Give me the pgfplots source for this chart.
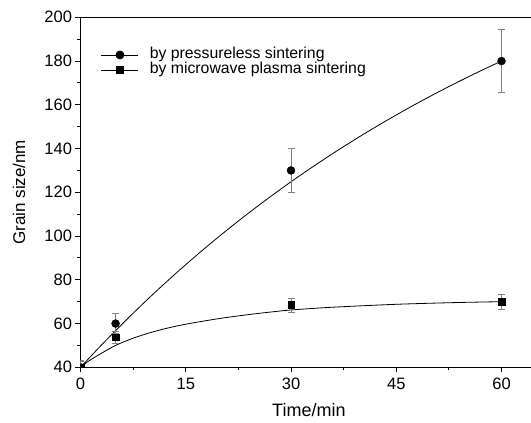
\documentclass[border=0pt]{standalone}
\usepackage{fontspec}
\setmainfont{Liberation Sans}
\usepackage{pgfplots}
\pgfplotsset{compat=1.18}
\begin{document}
\begin{tikzpicture}
\begin{axis}[
 name=ax,
 scale only axis, width=450.5pt, height=350pt,
 xmin=0, xmax=64.2, ymin=40, ymax=200,
 axis x line*=box, axis y line*=left,
 xtick={0,15,30,45,60}, minor xtick={7.5,22.5,37.5,52.5},
 ytick={40,60,...,200}, minor ytick={50,70,...,190},
 xtick pos=left, ytick pos=left,
 tick align=outside,
 major tick length=5pt, minor tick length=3pt,
 axis line style={line width=1.3pt},
 every tick/.style={black, line width=1pt},
 tick label style={font=\fontsize{16.5}{18}\selectfont},
 xticklabel style={yshift=-2pt},
 /pgf/number format/assume math mode=true,
 xlabel={Time/min}, ylabel={Grain size/nm},
 xlabel style={font=\fontsize{18}{20}\selectfont, at={(axis description cs:0.507,-0.122)}, anchor=center},
 ylabel style={font=\fontsize{17}{20}\selectfont, at={(axis description cs:-0.1365,0.5)}, anchor=center},
 clip marker paths=true,
 legend style={draw=none, fill=none, at={(axis cs:2.9,186.3)}, anchor=north west,
   font=\fontsize{15.8}{17}\selectfont, row sep=0pt, inner sep=0pt,
   nodes={inner sep=0pt, text height=11pt, text depth=4pt},
   /tikz/every odd column/.append style={column sep=11pt}},
 legend cell align=left,
 legend image code/.code={\draw[mark repeat=2,mark phase=2,#1] plot coordinates {(0pt,0pt) (18.5pt,0pt) (37pt,0pt)};},
]
\addlegendimage{black, line width=0.8pt, mark=*, mark size=4pt}
\addlegendentry{by pressureless sintering}
\addlegendimage{black, line width=0.8pt, mark=square*, mark size=3.3pt}
\addlegendentry{by microwave plasma sintering}

\addplot[black, line width=0.8pt, smooth, forget plot] coordinates {
(0,40) (2.5,48.54) (5,56.77) (7.5,64.72) (10,72.39) (12.5,79.79) (15,86.93)
(17.5,93.82) (20,100.47) (22.5,106.88) (25,113.07) (27.5,119.04) (30,124.80)
(32.5,130.36) (35,135.72) (37.5,140.89) (40,145.89) (42.5,150.70) (45,155.35)
(47.5,159.84) (50,164.17) (52.5,168.34) (55,172.37) (57.5,176.25) (60,180.0)};

\addplot[black, line width=0.8pt, smooth, forget plot] coordinates {
(0,40) (1,42.5) (2.5,45.5) (5,50.0) (7.5,53.3) (10,55.9) (12.5,58.0) (15,59.7)
(17.5,61.1) (20,62.4) (22.5,63.5) (25,64.5) (27.5,65.4) (30,66.2) (35,67.3)
(40,68.1) (45,68.8) (50,69.3) (55,69.7) (60,70.0)};

\addplot[only marks, mark=*, mark size=4pt, black, forget plot,
 error bars/.cd, y dir=both, y explicit,
 error bar style={gray, line width=0.8pt},
 error mark options={rotate=90, gray, mark size=3.5pt, line width=0.8pt}]
 coordinates {(0,40) +- (0,3) (5,60) +- (0,4.7) (30,130) +- (0,10.2) (60,180) +- (0,14.3)};

\addplot[only marks, mark=square*, mark size=3.3pt, black, forget plot,
 error bars/.cd, y dir=both, y explicit,
 error bar style={gray, line width=0.8pt},
 error mark options={rotate=90, gray, mark size=3.5pt, line width=0.8pt}]
 coordinates {(0,40) +- (0,2.5) (5,53.8) +- (0,2.8) (30,68.5) +- (0,3.2) (60,69.9) +- (0,3.6)};
\end{axis}
\pgfresetboundingbox
\path[use as bounding box] ([xshift=-80.5pt,yshift=-55.7pt]ax.south west) rectangle ++(531pt,423pt);
\end{tikzpicture}
\end{document}
